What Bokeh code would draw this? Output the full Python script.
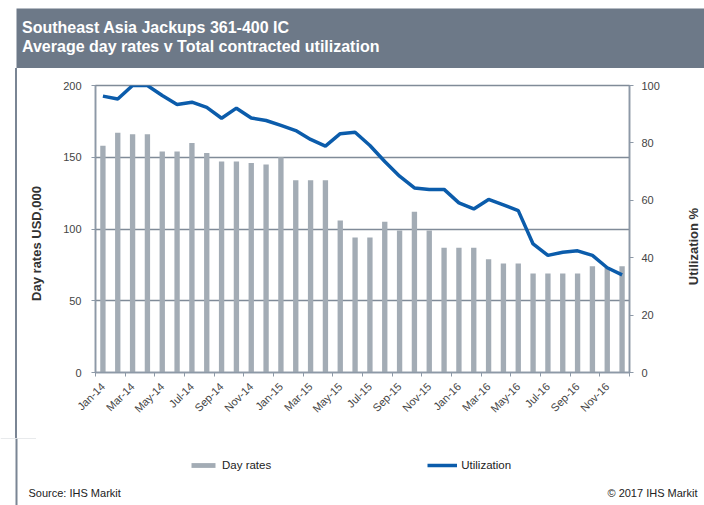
import math
from bokeh.plotting import figure
from bokeh.models import (Range1d, LinearAxis, FixedTicker, Label, Legend, LegendItem, Spacer)
from bokeh.layouts import column, row
from bokeh.embed import file_html
from bokeh.resources import INLINE

months = ["Jan-14", "Feb-14", "Mar-14", "Apr-14", "May-14", "Jun-14", "Jul-14", "Aug-14",
          "Sep-14", "Oct-14", "Nov-14", "Dec-14", "Jan-15", "Feb-15", "Mar-15", "Apr-15",
          "May-15", "Jun-15", "Jul-15", "Aug-15", "Sep-15", "Oct-15", "Nov-15", "Dec-15",
          "Jan-16", "Feb-16", "Mar-16", "Apr-16", "May-16", "Jun-16", "Jul-16", "Aug-16",
          "Sep-16", "Oct-16", "Nov-16", "Dec-16"]
day_rates = [158, 167, 166, 166, 154, 154, 160, 153, 147, 147, 146, 145,
             150, 134, 134, 134, 106, 94, 94, 105, 99, 112, 99, 87,
             87, 87, 79, 76, 76, 69, 69, 69, 69, 74, 73, 74]
utilization = [96.3, 95.3, 100, 100, 96.5, 93.4, 94.2, 92.4, 88.6, 92.1, 88.7, 87.8,
               86.1, 84.3, 81.2, 78.9, 83.2, 83.7, 79.1, 73.5, 68.4, 64.3, 63.8, 63.8,
               59.1, 57.0, 60.3, 58.4, 56.4, 44.8, 40.8, 41.9, 42.4, 40.8, 36.5, 34.0]
left_ticks = [0, 50, 100, 150, 200]
right_ticks = [0, 20, 40, 60, 80, 100]
title1 = "Southeast Asia Jackups 361-400 IC"
title2 = "Average day rates v Total contracted utilization"
right_title = "Utilization %"
source_text = "Source: IHS Markit"
copyright_text = "\u00a9 2017 IHS Markit"

idx = list(range(len(months)))
label_pos = idx[::2]
boundary_pos = [i - 0.5 for i in range(0, len(months) + 1, 2)]

FONT = "Liberation Sans"
GRID = "#808b98"
AXIS = "#8d99a7"
BAR = "#a3acb5"
LINE = "#0b5cab"
HEADER = "#6d7988"
EDGE = "#7a8594"
NB = "\u00a0"

# ---------------- header band ----------------
h = figure(width=704, height=68, x_range=Range1d(0, 704), y_range=Range1d(68, 0),
           output_backend="svg", toolbar_location=None, min_border=0,
           x_axis_type=None, y_axis_type=None, outline_line_color=None)
h.grid.visible = False
h.quad(left=[16], right=[704], top=[8], bottom=[68], fill_color=HEADER, line_color=None)
for txt, yy in [(title1, 27), (title2, 45.5)]:
    h.add_layout(Label(x=21.5, y=yy, text=txt, text_font=FONT, text_font_style="bold",
                       text_font_size="16px", text_color="white", text_baseline="middle"))

# ---------------- main chart ----------------
p = figure(width=647, height=370, output_backend="svg", toolbar_location=None,
           x_range=Range1d(-0.5, len(months) - 0.5), y_range=Range1d(0, 200),
           min_border_left=78, min_border_right=35, min_border_top=17, min_border_bottom=66)
p.extra_y_ranges = {"util": Range1d(0, 100)}

bars = p.vbar(x=idx, top=day_rates, width=0.36, fill_color=BAR, line_color=None)
line = p.line(x=idx, y=utilization, y_range_name="util", line_color=LINE, line_width=3.5)

xa = p.xaxis[0]
xa.ticker = FixedTicker(ticks=label_pos, minor_ticks=boundary_pos)
xa.major_label_overrides = {i: months[i] for i in label_pos}
xa.major_label_orientation = 0.785
xa.major_tick_out = 0
xa.major_tick_in = 0
xa.minor_tick_out = 4
xa.minor_tick_in = 0
xa.minor_tick_line_color = AXIS
xa.axis_line_color = AXIS
xa.axis_line_width = 1.5
xa.major_label_text_font = FONT
xa.major_label_text_font_size = "11px"
xa.major_label_text_color = "#444444"
xa.major_label_standoff = 8

ya = p.yaxis[0]
ya.ticker = FixedTicker(ticks=left_ticks)
ya.axis_label = "Day rates USD,000" + NB * 8
ya.axis_label_text_font = FONT
ya.axis_label_text_font_style = "bold"
ya.axis_label_text_font_size = "13px"
ya.axis_label_text_color = "#333333"
ya.axis_label_standoff = 16
ya.major_label_text_font = FONT
ya.major_label_text_font_size = "11px"
ya.major_label_text_color = "#444444"
ya.major_label_standoff = 10
ya.major_tick_out = 4
ya.major_tick_in = 0
ya.major_tick_line_color = AXIS
ya.axis_line_color = AXIS
ya.axis_line_width = 1.5

ra = LinearAxis(y_range_name="util", ticker=FixedTicker(ticks=right_ticks))
ra.major_label_text_font = FONT
ra.major_label_text_font_size = "11px"
ra.major_label_text_color = "#444444"
ra.major_label_standoff = 8
ra.major_tick_out = 4
ra.major_tick_in = 0
ra.major_tick_line_color = AXIS
ra.axis_line_color = AXIS
ra.axis_line_width = 1.5
p.add_layout(ra, "right")

p.xgrid.visible = False
p.ygrid.ticker = FixedTicker(ticks=left_ticks[1:])
p.ygrid.grid_line_color = GRID
p.ygrid.grid_line_width = 1.5
p.outline_line_color = GRID
p.outline_line_width = 1.5

# ---------------- right strip: title of the utilization axis ----------------
rs = figure(width=40, height=370, x_range=Range1d(0, 40), y_range=Range1d(0, 100),
            output_backend="svg", toolbar_location=None, min_border=0,
            x_axis_type=None, y_axis_type=None, outline_line_color=None)
rs.grid.visible = False
rs.add_layout(Label(x=29, y=43.9, text=right_title, angle=math.pi / 2, text_font=FONT,
                    text_font_style="bold", text_font_size="13px", text_color="#333333",
                    text_align="center", text_baseline="middle"))

# ---------------- footer: legend and source ----------------
f = figure(width=704, height=67, x_range=Range1d(0, 704), y_range=Range1d(505, 438),
           output_backend="svg", toolbar_location=None, min_border=0,
           x_axis_type=None, y_axis_type=None, outline_line_color=None)
f.grid.visible = False
f.quad(left=[15], right=[17], top=[438], bottom=[505], fill_color=EDGE, line_color=None)
# legend proxies: same data, outside the footer's visible window
lb = f.vbar(x=idx, top=day_rates, width=1, fill_color=BAR, line_color=None)
ll = f.line(x=idx, y=utilization, line_color=LINE, line_width=3.5)
legend = Legend(items=[LegendItem(label="Day rates", renderers=[lb]),
                       LegendItem(label="Utilization", renderers=[ll])],
                location=(188, 34), orientation="horizontal", spacing=156,
                padding=0, margin=0, glyph_width=30, glyph_height=6, label_standoff=4,
                label_text_font=FONT, label_text_font_size="11.5px",
                label_text_color="#222222", border_line_alpha=0,
                background_fill_alpha=0)
f.add_layout(legend, "center")
f.add_layout(Label(x=28, y=492, text=source_text, text_font=FONT, text_font_size="11px",
                   text_color="#222222", text_baseline="middle"))
f.add_layout(Label(x=697, y=492, text=copyright_text, text_font=FONT,
                   text_font_size="11px", text_color="#222222", text_baseline="middle",
                   text_align="right"))

edge = Spacer(width=2, height=370, styles={"background-color": EDGE})
layout = column(h, row(Spacer(width=15, height=370), edge, p, rs), f)

open("out.html", "w").write(file_html(layout, INLINE))
